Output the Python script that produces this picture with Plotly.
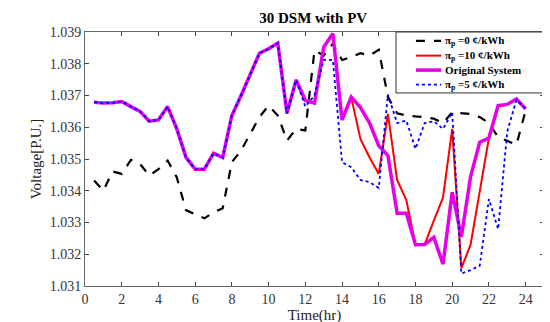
import plotly.graph_objects as go

time = [0.5 * i for i in range(1, 49)]

pi0 = [1.03432, 1.03400, 1.03461, 1.03453, 1.03497, 1.03484, 1.03448, 1.03468, 1.03495, 1.03442,
       1.03339, 1.03327, 1.03313, 1.03332, 1.03345, 1.03490, 1.03527, 1.03579, 1.03632, 1.03668,
       1.03637, 1.03558, 1.03595, 1.03590, 1.03842, 1.03826, 1.03863, 1.03812, 1.03821, 1.03833,
       1.03826, 1.03844, 1.03695, 1.03644, 1.03637, 1.03634, 1.03632, 1.03627, 1.03613, 1.03647,
       1.03644, 1.03642, 1.03632, 1.03613, 1.03569, 1.03556, 1.03545, 1.03653]

orig = [1.03679, 1.03676, 1.03677, 1.03681, 1.03665, 1.03650, 1.03619, 1.03623, 1.03665, 1.03595,
        1.03505, 1.03468, 1.03468, 1.03518, 1.03505, 1.03637, 1.03700, 1.03768, 1.03833, 1.03847,
        1.03865, 1.03644, 1.03749, 1.03684, 1.03676, 1.03852, 1.03895, 1.03623, 1.03695, 1.03663,
        1.03613, 1.03542, 1.03511, 1.03329, 1.03329, 1.03230, 1.03231, 1.03253, 1.03169, 1.03395,
        1.03255, 1.03444, 1.03553, 1.03566, 1.03668, 1.03672, 1.03689, 1.03658]

pi10 = [1.03679, 1.03676, 1.03677, 1.03681, 1.03665, 1.03650, 1.03619, 1.03623, 1.03665, 1.03595,
        1.03505, 1.03468, 1.03468, 1.03518, 1.03505, 1.03637, 1.03700, 1.03768, 1.03833, 1.03847,
        1.03865, 1.03644, 1.03749, 1.03684, 1.03676, 1.03852, 1.03895, 1.03623, 1.03695, 1.03563,
        1.03505, 1.03453, 1.03642, 1.03434, 1.03371, 1.03230, 1.03231, 1.03306, 1.03379, 1.03595,
        1.03156, 1.03230, 1.03398, 1.03566, 1.03668, 1.03672, 1.03689, 1.03658]

pi5 = [1.03679, 1.03676, 1.03677, 1.03681, 1.03665, 1.03650, 1.03619, 1.03623, 1.03665, 1.03595,
       1.03505, 1.03468, 1.03468, 1.03518, 1.03505, 1.03637, 1.03700, 1.03768, 1.03833, 1.03847,
       1.03865, 1.03644, 1.03749, 1.03665, 1.03700, 1.03812, 1.03812, 1.03490, 1.03474, 1.03434,
       1.03427, 1.03409, 1.03703, 1.03613, 1.03621, 1.03532, 1.03613, 1.03619, 1.03595, 1.03647,
       1.03139, 1.03150, 1.03164, 1.03374, 1.03279, 1.03587, 1.03686, 1.03658]

names = ["π<sub>p</sub> =0 ¢/kWh", "π<sub>p</sub> =10 ¢/kWh", "Original System", "π<sub>p</sub> =5 ¢/kWh"]

x_ticks = list(range(0, 25, 2))
y_ticks = [1.031, 1.032, 1.033, 1.034, 1.035, 1.036, 1.037, 1.038, 1.039]

FONT = "Liberation Serif"

styles = [
    dict(color="black", width=2.2, dash="dash"),
    dict(color="#ff0000", width=2),
    dict(color="#e600e6", width=3.5),
    dict(color="#0000ff", width=1.8, dash="dot"),
]
series = [pi0, pi10, orig, pi5]

fig = go.Figure()
for nm, ys, st in zip(names, series, styles):
    fig.add_trace(go.Scatter(x=time, y=ys, mode="lines", name=nm, line=st, showlegend=False))

# custom compact legend (paper coordinates)
leg_x0, leg_x1, leg_y0, leg_y1 = 0.6776, 1.002, 0.760, 1.0
fig.add_shape(type="rect", xref="paper", yref="paper", x0=leg_x0, x1=leg_x1, y0=leg_y0, y1=leg_y1,
              line=dict(color="#333", width=1), fillcolor="white", layer="above")
row_y = [0.965, 0.907, 0.850, 0.793]
for nm, st, ry in zip(names, styles, row_y):
    fig.add_shape(type="line", xref="paper", yref="paper", x0=0.721, x1=0.776, y0=ry, y1=ry,
                  line=st, layer="above")
    fig.add_annotation(xref="paper", yref="paper", x=0.780, y=ry, xanchor="left", yanchor="middle",
                       text="<b>" + nm + "</b>", showarrow=False,
                       font=dict(family=FONT, size=11, color="black"))

fig.update_layout(
    width=550, height=322,
    margin=dict(l=77, r=14, t=24, b=44),
    paper_bgcolor="white", plot_bgcolor="white",
    title=dict(text="<b>30 DSM with PV</b>", x=0.555, xanchor="center", y=0.985, yanchor="top",
               font=dict(family=FONT, size=15, color="black")),
    font=dict(family=FONT, size=13, color="#333"),
    showlegend=False,
)
fig.update_xaxes(range=[0, 25], tickvals=x_ticks, ticks="inside", ticklen=4,
                 showline=True, linecolor="#666", linewidth=1, mirror="ticks",
                 showgrid=False, zeroline=False,
                 title=dict(text="Time(hr)", font=dict(family=FONT, size=15, color="#222"), standoff=2),
                 tickfont=dict(family=FONT, size=14, color="#333"))
fig.update_yaxes(range=[1.031, 1.039], tickvals=y_ticks, tickformat=".3f", ticks="inside", ticklen=4,
                 showline=True, linecolor="#666", linewidth=1, mirror="ticks",
                 showgrid=False, zeroline=False,
                 title=dict(text="Voltage[P.U.]", font=dict(family=FONT, size=15, color="#222"), standoff=4),
                 tickfont=dict(family=FONT, size=14, color="#333"))

fig.write_html("out.html")
